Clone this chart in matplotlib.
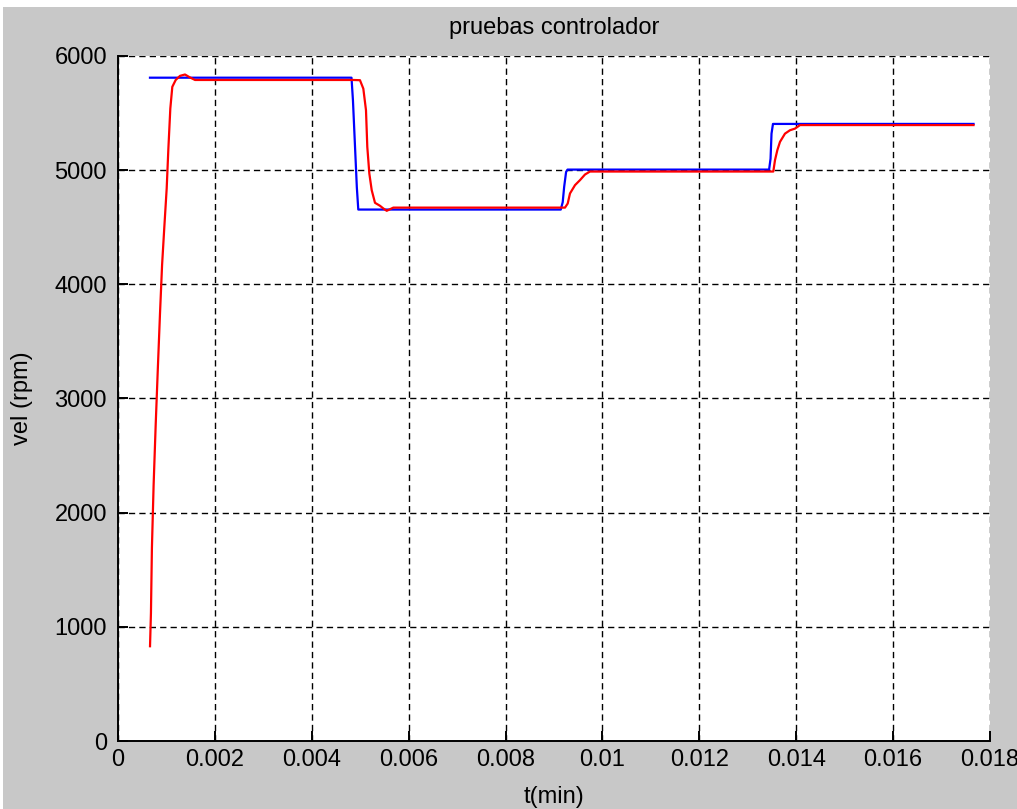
import matplotlib
matplotlib.use("Agg")
import matplotlib.pyplot as plt
from matplotlib.patches import Rectangle

plt.rcParams['font.family'] = ['Liberation Sans', 'DejaVu Sans']

# Referencia (azul)
t_ref = [0.00066, 0.00482, 0.00485, 0.00489, 0.00493, 0.00496,
         0.00914, 0.00918, 0.00921, 0.00925, 0.00928,
         0.01344, 0.01347, 0.01349, 0.01352, 0.01766]
v_ref = [5810, 5810, 5610, 5230, 4850, 4655,
         4655, 4720, 4855, 4985, 5005,
         5005, 5100, 5320, 5405, 5405]

# Respuesta del controlador (rojo)
t_vel = [0.000661, 0.000680, 0.000700, 0.000735, 0.000778, 0.000822,
         0.000867, 0.000910, 0.000956, 0.001005, 0.001040, 0.001080, 0.001121,
         0.001191, 0.001280, 0.001383, 0.001486, 0.001590,
         0.004857, 0.004995, 0.005064, 0.005119, 0.005146, 0.005188, 0.005237,
         0.005305, 0.005408, 0.005476, 0.005547, 0.005683,
         0.009227, 0.009283, 0.009330, 0.009434, 0.009537, 0.009640, 0.009743,
         0.013527, 0.013562, 0.013610, 0.013665, 0.013768, 0.013872, 0.013975,
         0.014078, 0.01766]
v_vel = [830, 1120, 1690, 2240, 2770, 3260,
         3745, 4170, 4500, 4840, 5190, 5540, 5730,
         5790, 5826, 5838, 5812, 5790,
         5790, 5788, 5714, 5525, 5204, 4970, 4825,
         4714, 4688, 4665, 4644, 4672,
         4672, 4708, 4796, 4869, 4913, 4962, 4988,
         4988, 5088, 5175, 5248, 5320, 5350, 5364,
         5395, 5395]

x_ticks = [0, 0.002, 0.004, 0.006, 0.008, 0.01, 0.012, 0.014, 0.016, 0.018]
x_labels = ["0", "0.002", "0.004", "0.006", "0.008", "0.01", "0.012", "0.014", "0.016", "0.018"]
y_ticks = [0, 1000, 2000, 3000, 4000, 5000, 6000]

W, H = 1017, 809
fig = plt.figure(figsize=(W / 100, H / 100), dpi=100, facecolor="#c8c8c8")

# franjas blancas del borde de la captura
fig.patches.append(Rectangle((0, 1 - 7 / H), 1, 7 / H, transform=fig.transFigure,
                             facecolor="white", edgecolor="none", zorder=-1))
fig.patches.append(Rectangle((0, 0), 3 / W, 1, transform=fig.transFigure,
                             facecolor="white", edgecolor="none", zorder=-1))

ax = fig.add_axes([118 / W, 1 - 741 / H, 872 / W, 685 / H])
ax.set_facecolor("white")

ax.plot(t_ref, v_ref, color="#0000ff", lw=1.6, zorder=3)
ax.plot(t_vel, v_vel, color="#ff0000", lw=1.6, zorder=4)

ax.set_xlim(0, 0.018)
ax.set_ylim(0, 6000)
ax.set_xticks(x_ticks)
ax.set_xticklabels(x_labels)
ax.set_yticks(y_ticks)
ax.grid(True, color="black", linestyle=(0, (4.5, 3)), linewidth=1.0, zorder=1)
ax.set_axisbelow(True)

for s in ["top", "right"]:
    ax.spines[s].set_visible(False)
for s in ["left", "bottom"]:
    ax.spines[s].set_linewidth(1.4)

ax.tick_params(direction="in", length=7, width=1.4, labelsize=17, top=False, right=False)
ax.tick_params(axis="x", pad=6)
ax.tick_params(axis="y", pad=8)

fig.text(554 / W, 1 - 28 / H, "pruebas controlador", ha="center", va="center", fontsize=17)
fig.text(554 / W, 1 - 797 / H, "t(min)", ha="center", va="center", fontsize=17)
fig.text(22 / W, 1 - 398 / H, "vel (rpm)", ha="center", va="center", rotation=90, fontsize=17)

fig.savefig("out.png", dpi=100, facecolor=fig.get_facecolor())
